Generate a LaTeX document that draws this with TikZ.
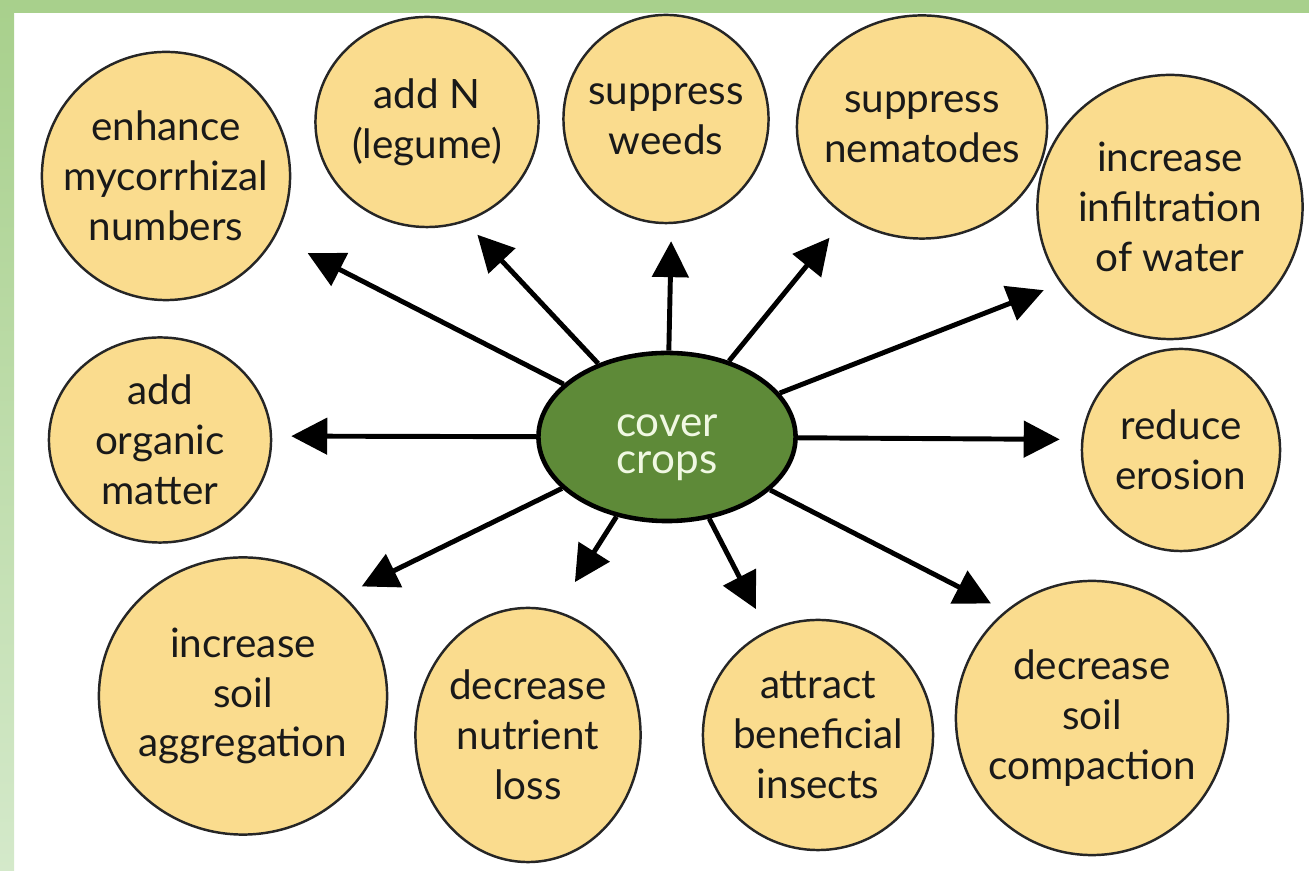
\documentclass[tikz,border=0pt]{standalone}
\usepackage{fontspec}
\setmainfont{Lato}
\usetikzlibrary{shapes.geometric,arrows.meta}

\definecolor{bubble}{RGB}{250,220,142}
\definecolor{crop}{RGB}{94,138,56}
\definecolor{croptext}{RGB}{240,248,226}
\definecolor{frametop}{RGB}{168,208,140}
\definecolor{framebot}{RGB}{212,233,202}

\tikzstyle{blob}=[ellipse, draw=black!85, line width=0.7pt, fill=bubble, inner sep=-1cm, align=center, text=black!90, font=\fontsize{11.5}{14.2}\selectfont]
\tikzstyle{hub}=[ellipse, draw=black, line width=1.3pt, fill=crop, inner sep=-1cm, align=center, text=croptext, text height=21pt, text depth=0pt, font=\fontsize{12}{10.5}\selectfont]
\tikzstyle{arr}=[line width=1.4pt, -{Triangle[length=0.36cm, width=0.36cm]}]

\begin{document}
\begin{tikzpicture}[x=0.01cm, y=-0.01cm]
    \useasboundingbox (0,0) rectangle (1309,871);
    % green frame
    \fill[frametop] (0,0) rectangle (1309,13);
    \shade[top color=frametop, bottom color=framebot] (0,0) rectangle (14,871);

    \node[hub, minimum width=2.57cm, minimum height=1.68cm] (cc) at (667,437) {cover\\crops};

    \node[blob, minimum width=2.48cm, minimum height=2.48cm] (myc)      at (166,176)  {enhance\\mycorrhizal\\numbers};
    \node[blob, minimum width=2.23cm, minimum height=2.10cm] (addn)     at (427,122)  {add N\\(legume)};
    \node[blob, minimum width=2.05cm, minimum height=2.08cm] (weeds)    at (666,119)  {suppress\\weeds};
    \node[blob, minimum width=2.50cm, minimum height=2.23cm] (nema)     at (922,127)  {suppress\\nematodes};
    \node[blob, minimum width=2.65cm, minimum height=2.64cm] (infil)    at (1170,207) {increase\\infiltration\\of water};
    \node[blob, minimum width=1.98cm, minimum height=2.02cm] (erosion)  at (1181,450) {reduce\\erosion};
    \node[blob, minimum width=2.22cm, minimum height=2.05cm] (organic)  at (160,440)  {add\\organic\\matter};
    \node[blob, minimum width=2.88cm, minimum height=2.77cm] (aggreg)   at (243,696)  {increase\\soil\\aggregation};
    \node[blob, minimum width=2.25cm, minimum height=2.54cm] (nutrient) at (528,735)  {decrease\\nutrient\\loss};
    \node[blob, minimum width=2.30cm, minimum height=2.30cm] (insects)  at (818,735)  {attract\\beneficial\\insects};
    \node[blob, minimum width=2.72cm, minimum height=2.74cm] (compact)  at (1092,718) {decrease\\soil\\compaction};

    % arrows out of the hub
    \draw[arr, shorten >=0.36cm]  (cc) -- (myc.-29.5);
    \draw[arr, shorten >=0.175cm] (cc) -- (addn.-69.4);
    \draw[arr, shorten >=0.17cm]  (cc) -- (weeds.-87.2);
    \draw[arr, shorten >=0.265cm] (cc) -- (nema.-130.1);
    \draw[arr, shorten >=0.18cm]  (cc) -- (infil.-145.2);
    \draw[arr, shorten >=0.215cm] (cc) -- (erosion.174.3);
    \draw[arr, shorten >=0.16cm]  (cc) -- (compact.129.9);
    \draw[arr, shorten >=0.24cm]  (cc) -- (insects.116);
    \draw[arr, shorten >=0.34cm]  (cc) -- (nutrient.77.2);
    \draw[arr, shorten >=0.2cm]   (cc) -- (aggreg.45);
    \draw[arr, shorten >=0.19cm]  (cc) -- (organic.2);
\end{tikzpicture}
\end{document}
